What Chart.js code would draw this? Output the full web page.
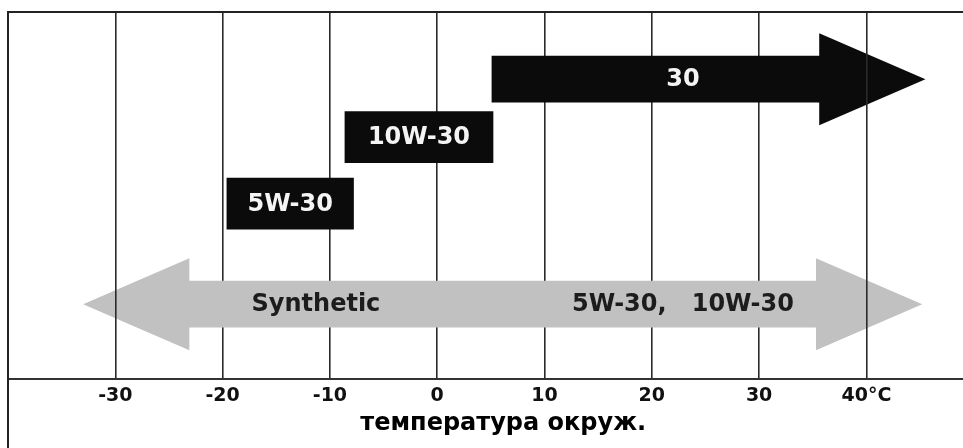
<!DOCTYPE html>
<html>
<head>
<meta charset="utf-8">
<script src="https://cdn.jsdelivr.net/npm/chart.js@4.4.1/dist/chart.umd.min.js"></script>
<style>
html, body { margin: 0; padding: 0; background: #fff; }
#wrap { width: 963px; height: 448px; }
</style>
</head>
<body>
<div id="wrap"><canvas id="oilChart"></canvas></div>
<script>
'use strict';
// oil grades and their temperature ranges (°C)
const grades = ['30', '10W-30', '5W-30', 'Synthetic'];
const tempFrom = [5.1, -8.6, -19.6, -33.0];
const tempTo = [45.5, 5.2, -7.8, 45.2];
const arrowKind = ['right', 'none', 'none', 'both'];
const gradeText = [['30'], ['10W-30'], ['5W-30'], ['Synthetic', '5W-30,   10W-30']];
const textTemp = [[22.9], [null], [null], [-11.3, 22.9]];
const tickValues = [-30, -20, -10, 0, 10, 20, 30, 40];
const tickText = ['-30', '-20', '-10', '0', '10', '20', '30', '40°C'];
const axisTitle = 'температура окруж.';

// layout / style
const rowLevel = [1.83, 3.41, 5.22, 7.96];
const barPx = [46, 51, 51, 46];
const fills = ['#0b0b0b', '#0b0b0b', '#0b0b0b', '#c1c1c1'];
const inks = ['#f4f4f4', '#f4f4f4', '#f4f4f4', '#1c1c1c'];
const HEAD = 9.9; // arrow head length in °C
const FRAME_END = 52.3; // the frame goes on past the picture's right edge
const FONT = 'DejaVu Sans';

const datasets = grades.map(function (g, i) {
    let a = tempFrom[i];
    let b = tempTo[i];
    if (arrowKind[i] !== 'none') b -= HEAD;
    if (arrowKind[i] === 'both') a += HEAD;
    return {
        label: g,
        data: [{ x: [a, b], y: rowLevel[i] }],
        backgroundColor: fills[i],
        barThickness: barPx[i],
        grouped: false,
        borderWidth: 0,
        borderSkipped: false
    };
});

// arrow heads go under the grid lines
const arrowHeads = {
    id: 'arrowHeads',
    beforeDraw(chart) {
        const ctx = chart.ctx;
        const xs = chart.scales.x;
        const ys = chart.scales.y;
        grades.forEach(function (g, i) {
            if (arrowKind[i] === 'none') return;
            const cy = ys.getPixelForValue(rowLevel[i]);
            const half = barPx[i];
            const heads = [[tempTo[i] - HEAD, tempTo[i]]];
            if (arrowKind[i] === 'both') heads.push([tempFrom[i] + HEAD, tempFrom[i]]);
            ctx.save();
            ctx.fillStyle = fills[i];
            heads.forEach(function (h) {
                const bx = xs.getPixelForValue(h[0]);
                const tx = xs.getPixelForValue(h[1]);
                const back = tx > bx ? -1 : 1;
                ctx.beginPath();
                ctx.moveTo(bx, cy - half);
                ctx.lineTo(tx, cy);
                ctx.lineTo(bx, cy + half);
                ctx.lineTo(bx, cy + half / 2);
                ctx.lineTo(bx + back, cy + half / 2);
                ctx.lineTo(bx + back, cy - half / 2);
                ctx.lineTo(bx, cy - half / 2);
                ctx.closePath();
                ctx.fill();
            });
            ctx.restore();
        });
    }
};

// frame lines, axis title and the texts on the bars
const framesAndText = {
    id: 'framesAndText',
    afterDatasetsDraw(chart) {
        const ctx = chart.ctx;
        const area = chart.chartArea;
        const xs = chart.scales.x;
        const ys = chart.scales.y;
        ctx.save();
        ctx.strokeStyle = '#222';
        ctx.lineWidth = 2;
        ctx.beginPath();
        ctx.moveTo(area.left, chart.height);
        ctx.lineTo(area.left, area.top);
        ctx.lineTo(chart.width, area.top);
        ctx.stroke();

        ctx.textAlign = 'center';
        ctx.textBaseline = 'middle';
        ctx.font = 'bold 24px "' + FONT + '"';
        grades.forEach(function (g, i) {
            const cy = ys.getPixelForValue(rowLevel[i]);
            ctx.fillStyle = inks[i];
            gradeText[i].forEach(function (t, k) {
                let at = textTemp[i][k];
                if (at === null) at = (tempFrom[i] + tempTo[i]) / 2;
                ctx.fillText(t, xs.getPixelForValue(at), cy + 1);
            });
        });

        // title is centred on the whole frame, not on the visible part
        const mid = (xs.getPixelForValue(xs.min) + xs.getPixelForValue(FRAME_END)) / 2;
        ctx.fillStyle = '#000';
        ctx.fillText(axisTitle, mid, xs.bottom - 24);
        ctx.restore();
    }
};

new Chart(document.getElementById('oilChart'), {
    type: 'bar',
    data: { datasets: datasets },
    options: {
        indexAxis: 'y',
        responsive: true,
        maintainAspectRatio: false,
        animation: false,
        layout: { padding: { left: 8, top: 12, right: 0, bottom: 0 } },
        plugins: {
            legend: { display: false },
            tooltip: { enabled: false }
        },
        scales: {
            x: {
                type: 'linear',
                min: -40,
                max: 49,
                afterBuildTicks: function (scale) {
                    scale.ticks = tickValues.map(v => ({ value: v }));
                },
                afterFit: function (scale) {
                    scale.height = 69;
                },
                ticks: {
                    autoSkip: false,
                    maxRotation: 0,
                    padding: 6,
                    color: '#111',
                    font: { family: FONT, weight: 'bold', size: 19 },
                    callback: function (value, index) {
                        return tickText[index];
                    }
                },
                grid: { color: '#2a2a2a', lineWidth: 1.6, drawTicks: false },
                border: { display: true, color: '#333', width: 2 }
            },
            y: {
                type: 'linear',
                min: 0,
                max: 10,
                reverse: true,
                offset: false,
                display: false
            }
        }
    },
    plugins: [arrowHeads, framesAndText]
});
</script>
</body>
</html>
